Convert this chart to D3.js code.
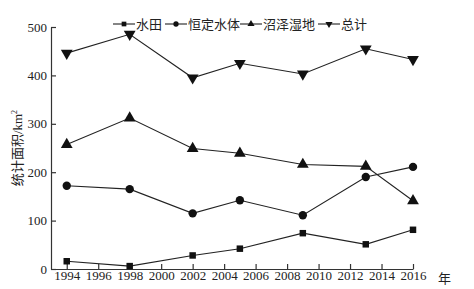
<!DOCTYPE html>
<html>
<head>
<meta charset="utf-8">
<script src="https://cdn.jsdelivr.net/npm/d3@7"></script>
<style>
  body { margin: 0; background: #fff; }
  text { font-family: "Liberation Serif", "Noto Sans CJK SC", serif; fill: #222; }
  .cjk { font-family: "Noto Sans CJK SC", serif; }
</style>
</head>
<body>
<div id="chart"></div>
<script>
// data
var years = [1994, 1998, 2002, 2005, 2009, 2013, 2016];
var paddy = [16, 6, 28, 42, 74, 51, 81];          // 水田
var water = [172, 165, 115, 142, 111, 190, 211];  // 恒定水体
var marsh = [257, 312, 249, 239, 216, 212, 141];  // 沼泽湿地
var total = [446, 485, 395, 425, 403, 455, 433];  // 总计
var seriesNames = ["水田", "恒定水体", "沼泽湿地", "总计"];
var markerTypes = ["square", "circle", "triangle", "down"];
var xTicks = d3.range(1994, 2017, 2);
var yTicks = [0, 100, 200, 300, 400, 500];

var svgWidth = 474, svgHeight = 289;
var margin = { top: 27, right: 61, bottom: 20, left: 51 };
var width = svgWidth - margin.left - margin.right;
var height = svgHeight - margin.top - margin.bottom;

var svg = d3.select("#chart").append("svg")
  .attr("width", svgWidth)
  .attr("height", svgHeight);

var chartGroup = svg.append("g")
  .attr("transform", `translate(${margin.left}, ${margin.top})`);

var x = d3.scaleLinear().domain([1993, 2016]).range([0, width]);
var y = d3.scaleLinear().domain([0, 500]).range([height, 0]);

// axes, ticks pointing inward
var xAxis = chartGroup.append("g")
  .attr("transform", `translate(0, ${height})`)
  .call(d3.axisBottom(x).tickValues(xTicks).tickFormat(d3.format("d")).tickSizeInner(-5).tickSizeOuter(0).tickPadding(4));
var yAxis = chartGroup.append("g")
  .call(d3.axisLeft(y).tickValues(yTicks).tickSizeInner(-5).tickSizeOuter(0).tickPadding(4));

[xAxis, yAxis].forEach(function(a) {
  a.selectAll("path, line").attr("stroke", "#333").attr("stroke-width", 1.2);
  a.selectAll("text").style("font-size", "13px").style("font-family", "Liberation Serif").attr("fill", "#222");
});
xAxis.selectAll("text").attr("dy", "0.55em");

// unit label at the end of the x axis
chartGroup.append("text")
  .attr("class", "cjk")
  .attr("x", width + 25)
  .attr("y", height + 14)
  .style("font-size", "13px")
  .text("年");

// y title
chartGroup.append("text")
  .attr("transform", "rotate(-90)")
  .attr("x", -(height / 2) + 0)
  .attr("y", -margin.left + 22)
  .attr("text-anchor", "middle")
  .style("font-size", "13px")
  .html('<tspan class="cjk">统计面积</tspan>/km<tspan dy="-5" style="font-size:8px">2</tspan>');

var symbols = {
  square: d3.symbol().type(d3.symbolSquare).size(42),
  circle: d3.symbol().type(d3.symbolCircle).size(55),
  triangle: d3.symbol().type(d3.symbolTriangle).size(60),
  down: d3.symbol().type(d3.symbolTriangle).size(60)
};
function markerTransform(type, px, py) {
  if (type === "down") return `translate(${px}, ${py}) rotate(180)`;
  return `translate(${px}, ${py})`;
}

var allSeries = [paddy, water, marsh, total];
var line = d3.line().x(function(d, i) { return x(years[i]); }).y(function(d) { return y(d); });

allSeries.forEach(function(vals, si) {
  chartGroup.append("path")
    .datum(vals)
    .attr("fill", "none")
    .attr("stroke", "#222")
    .attr("stroke-width", 1.1)
    .attr("d", line);
  chartGroup.selectAll(".m" + si)
    .data(vals)
    .enter()
    .append("path")
    .attr("class", "m" + si)
    .attr("d", symbols[markerTypes[si]])
    .attr("transform", function(d, i) { return markerTransform(markerTypes[si], x(years[i]), y(d)); })
    .attr("fill", "#111");
});

// legend
var legendX = [113, 165, 240, 318];
var legend = svg.append("g");
seriesNames.forEach(function(name, i) {
  var g = legend.append("g").attr("transform", `translate(${legendX[i]}, 24)`);
  g.append("line").attr("x1", 0).attr("x2", 22).attr("y1", 0).attr("y2", 0)
    .attr("stroke", "#222").attr("stroke-width", 1.1);
  g.append("path")
    .attr("d", d3.symbol().type(markerTypes[i] === "square" ? d3.symbolSquare : markerTypes[i] === "circle" ? d3.symbolCircle : d3.symbolTriangle).size(22))
    .attr("transform", markerTypes[i] === "down" ? "translate(11,0) rotate(180)" : "translate(11,0)")
    .attr("fill", "#111");
  g.append("text")
    .attr("class", "cjk")
    .attr("x", 23)
    .attr("y", 5)
    .style("font-size", "13px")
    .text(name);
});
</script>
</body>
</html>
